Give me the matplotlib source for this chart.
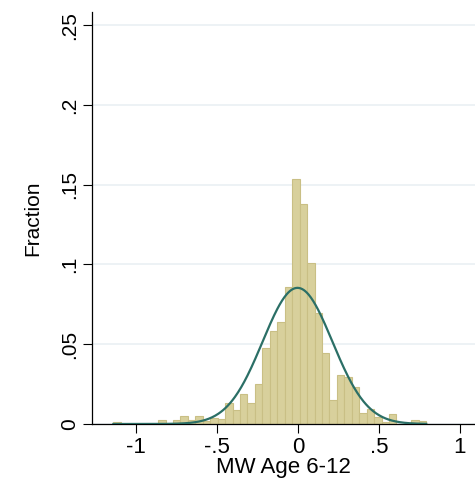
import numpy as np
import matplotlib
matplotlib.use("Agg")
import matplotlib.pyplot as plt

# istogramma (frazione per bin)
bin_start = -1.14
bin_width = 0.046
fractions = [
    0.0013, 0.0, 0.0, 0.0, 0.0, 0.0, 0.0025, 0.0, 0.0025, 0.0052,
    0.0027, 0.0050, 0.0020, 0.0040, 0.0030, 0.0130, 0.0088, 0.0186, 0.0130, 0.0249,
    0.0475, 0.0580, 0.0638, 0.0860, 0.1534, 0.1380, 0.1008, 0.0694, 0.0443, 0.0150,
    0.0305, 0.0292, 0.0232, 0.0067, 0.0095, 0.0046, 0.0015, 0.0062, 0.0, 0.0,
    0.0025, 0.0020,
]
# parametri della normale sovrapposta
norm_mean = -0.003
norm_sd = 0.215

xticks = [-1, -0.5, 0, 0.5, 1]
xticklabels = ["-1", "-.5", "0", ".5", "1"]
yticks = [0, 0.05, 0.1, 0.15, 0.2, 0.25]
yticklabels = ["0", ".05", ".1", ".15", ".2", ".25"]

plt.rcParams["font.family"] = ["Liberation Sans", "DejaVu Sans"]

fig = plt.figure(figsize=(4.75, 4.87), dpi=100)
ax = fig.add_axes([92 / 475, 1 - 424 / 487, 1 - 92 / 475, (424 - 12) / 487])

edges = bin_start + bin_width * np.arange(len(fractions) + 1)
ax.bar(edges[:-1], fractions, width=bin_width, align="edge",
       color="#d8d09c", edgecolor="#c9bf85", linewidth=0.8, zorder=2)

# curva normale scalata alla larghezza del bin
xs = np.linspace(edges[0], edges[-1], 400)
ys = bin_width * np.exp(-0.5 * ((xs - norm_mean) / norm_sd) ** 2) / (norm_sd * np.sqrt(2 * np.pi))
ax.plot(xs, ys, color="#2b6f66", linewidth=1.6, zorder=3)

ax.set_xlim(-1.272, 1.093)
ax.set_ylim(0, 0.2583)
ax.set_xticks(xticks)
ax.set_xticklabels(xticklabels)
ax.set_yticks(yticks)
ax.set_yticklabels(yticklabels, rotation=90, va="center")
ax.tick_params(axis="both", length=6.5, width=0.8, color="black")
ax.tick_params(axis="x", labelsize=16, pad=3)
ax.tick_params(axis="y", labelsize=15, pad=3)

ax.yaxis.grid(True, color="#eaf0f3", linewidth=1.2, zorder=0)
ax.set_axisbelow(True)
for s in ["top", "right"]:
    ax.spines[s].set_visible(False)
ax.spines["left"].set_linewidth(0.9)
ax.spines["bottom"].set_linewidth(0.9)

ax.set_xlabel("MW Age 6-12", fontsize=16, labelpad=-1)
ax.set_ylabel("Fraction", fontsize=15, labelpad=13)

fig.savefig("out.png", dpi=100)
